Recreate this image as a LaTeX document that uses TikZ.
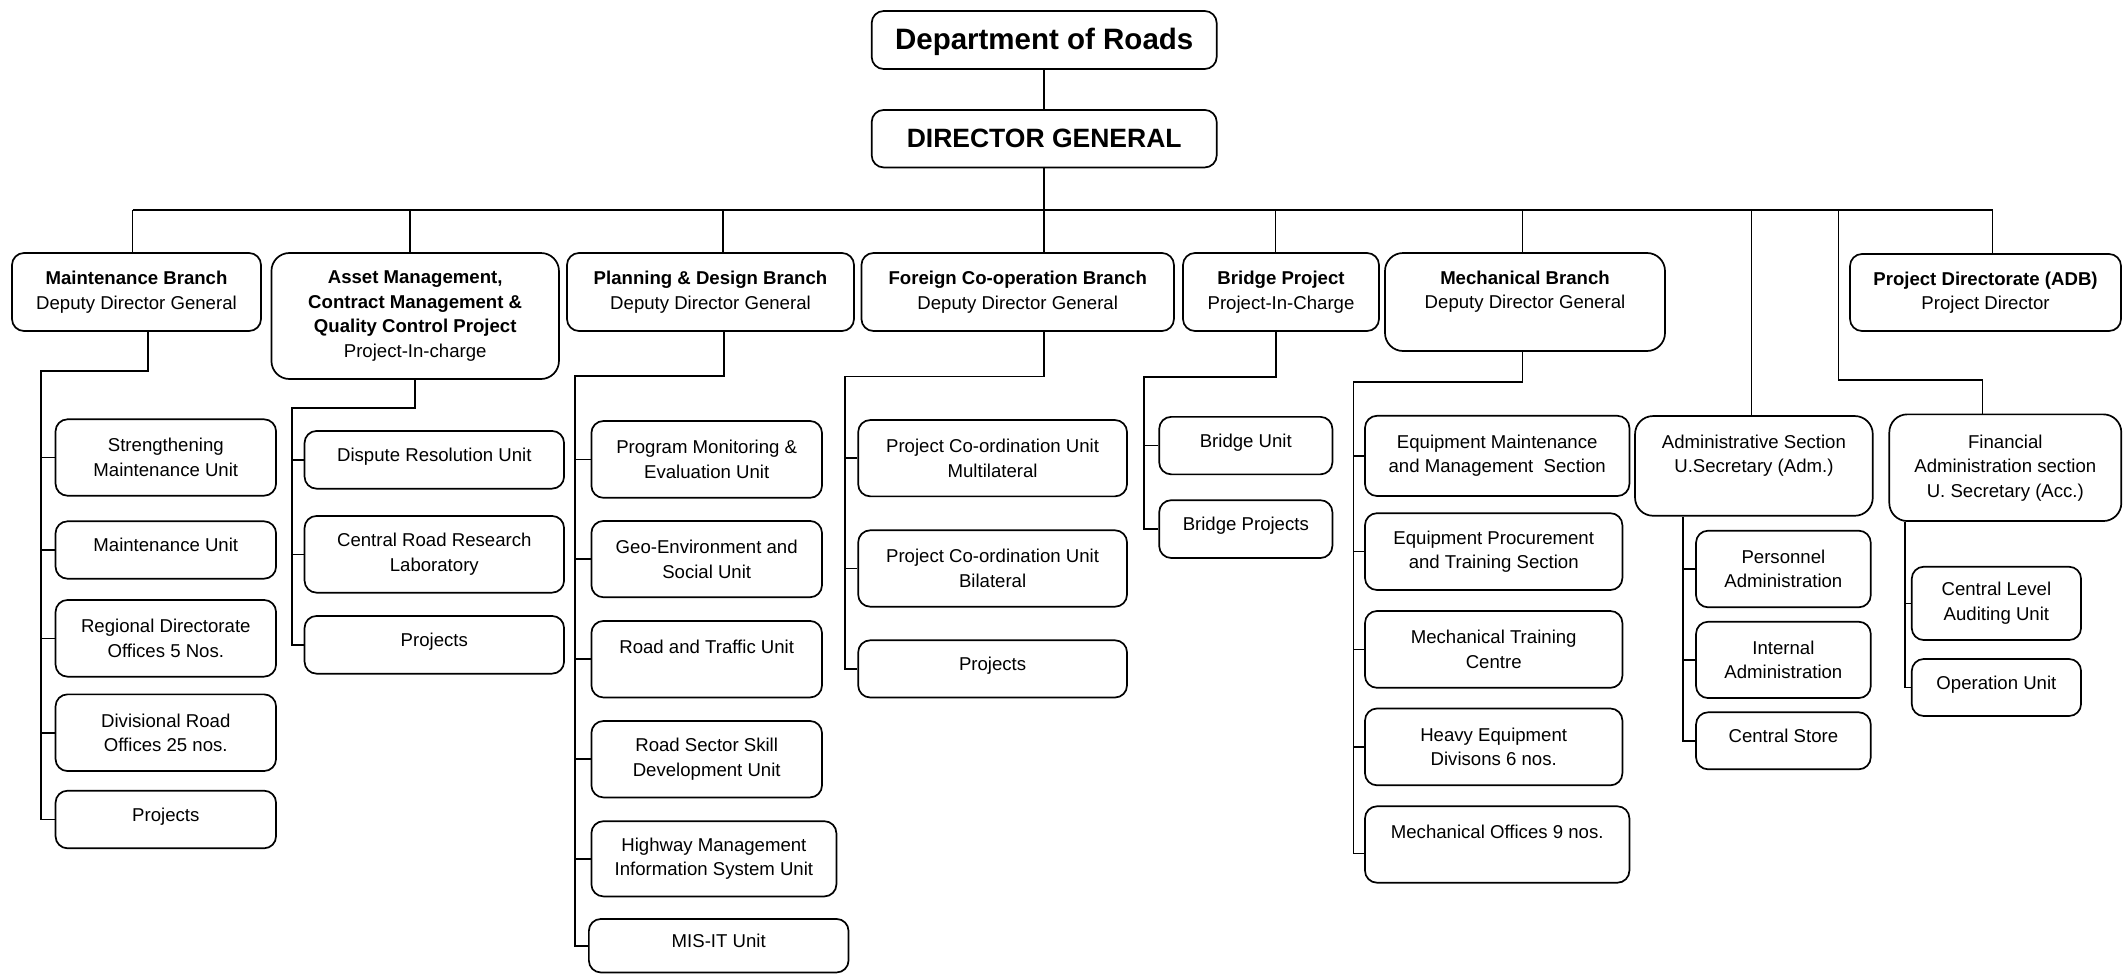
\documentclass[tikz,border=0pt]{standalone}
\usepackage{fontspec}
\setmainfont{Liberation Sans}
\usetikzlibrary{calc}
\tikzset{
  box/.style={draw, line width=1.7pt, rounded corners=12pt, align=center, inner sep=0pt,
    font=\fontsize{18.6}{24.5}\selectfont},
  bigbox/.style={box, rounded corners=18pt},
  single/.style={text height=13.3pt, text depth=10pt},
  conn/.style={line width=1.6pt},
  busline/.style={line width=2.2pt}
}
\begin{document}
\begin{tikzpicture}[x=1pt,y=-1pt]
\useasboundingbox (0,0) rectangle (2123,974);
\fill[white] (0,0) rectangle (2123,974);

% top
\node[box, minimum width=345pt, minimum height=58pt, text height=20pt, text depth=0pt, font=\bfseries\fontsize{29.5}{34}\selectfont] (dept) at (1044.2,40) {Department of Roads};
\node[box, minimum width=345pt, minimum height=57.5pt, font=\bfseries\fontsize{26.5}{30}\selectfont] (dg) at (1044.2,138.7) {DIRECTOR GENERAL};

% branches
\node[box, minimum width=249pt, minimum height=78pt] (mb) at (136.5,292) {\textbf{Maintenance Branch}\\Deputy Director General};
\node[bigbox, minimum width=287.5pt, minimum height=126pt] (am) at (415.2,316) {\textbf{Asset Management,}\\\textbf{Contract Management \&}\\\textbf{Quality Control Project}\\Project-In-charge};
\node[box, minimum width=287pt, minimum height=78pt] (pd) at (710.5,292) {\textbf{Planning \& Design Branch}\\Deputy Director General};
\node[box, minimum width=312.5pt, minimum height=78pt] (fc) at (1017.7,292) {\textbf{Foreign Co-operation Branch}\\Deputy Director General};
\node[box, minimum width=196pt, minimum height=78pt] (bp) at (1281,292) {\textbf{Bridge Project}\\Project-In-Charge};
\node[bigbox, minimum width=280pt, minimum height=98pt] (me) at (1525,302) {\textbf{Mechanical Branch}\\Deputy Director General\\~};
\node[bigbox, minimum width=237.7pt, minimum height=99.7pt] (as) at (1753.9,465.9) {Administrative Section\\U.Secretary (Adm.)\\~};
\node[box, minimum width=271pt, minimum height=77pt] (adb) at (1985.5,292.5) {\textbf{Project Directorate (ADB)}\\Project Director};
\node[bigbox, minimum width=232pt, minimum height=106.7pt] (fa) at (2005.3,467.7) {Financial\\Administration section\\U. Secretary (Acc.)};

% maintenance children
\node[box, minimum width=220.5pt, minimum height=76.4pt] (m1) at (165.8,457.5) {Strengthening\\Maintenance Unit};
\node[box, single, minimum width=220.5pt, minimum height=57.4pt] (m2) at (165.8,550) {Maintenance Unit};
\node[box, minimum width=220.5pt, minimum height=76.7pt] (m3) at (165.8,638.3) {Regional Directorate\\Offices 5 Nos.};
\node[box, minimum width=220.5pt, minimum height=76.7pt] (m4) at (165.8,732.7) {Divisional Road\\Offices 25 nos.};
\node[box, single, minimum width=220.5pt, minimum height=57.6pt] (m5) at (165.8,819.5) {Projects};

% asset children
\node[box, single, minimum width=259.5pt, minimum height=57.7pt] (a1) at (434.3,459.8) {Dispute Resolution Unit};
\node[box, minimum width=259.5pt, minimum height=76.7pt] (a2) at (434.3,554.3) {Central Road Research\\Laboratory};
\node[box, single, minimum width=259.5pt, minimum height=57.7pt] (a3) at (434.3,644.8) {Projects};

% planning children
\node[box, minimum width=230.6pt, minimum height=76.8pt] (p1) at (706.7,459.4) {Program Monitoring \&\\Evaluation Unit};
\node[box, minimum width=230.6pt, minimum height=76.3pt] (p2) at (706.7,559.1) {Geo-Environment and\\Social Unit};
\node[box, minimum width=230.6pt, minimum height=76.5pt] (p3) at (706.7,659.2) {Road and Traffic Unit\\~};
\node[box, minimum width=230.6pt, minimum height=76.4pt] (p4) at (706.7,759.2) {Road Sector Skill\\Development Unit};
\node[box, minimum width=245pt, minimum height=75.2pt] (p5) at (713.9,858.8) {Highway Management\\Information System Unit};
\node[box, single, minimum width=259.7pt, minimum height=53.5pt] (p6) at (718.7,945.7) {MIS-IT Unit};

% foreign children
\node[box, minimum width=268.8pt, minimum height=76.3pt] (f1) at (992.6,458.2) {Project Co-ordination Unit\\Multilateral};
\node[box, minimum width=268.8pt, minimum height=76.4pt] (f2) at (992.6,568.5) {Project Co-ordination Unit\\Bilateral};
\node[box, single, minimum width=268.8pt, minimum height=57.2pt] (f3) at (992.6,668.9) {Projects};

% bridge children
\node[box, single, minimum width=173.2pt, minimum height=57.5pt] (b1) at (1245.8,445.6) {Bridge Unit};
\node[box, single, minimum width=173.2pt, minimum height=57.8pt] (b2) at (1245.8,529.1) {Bridge Projects};

% mechanical children
\node[box, minimum width=264.4pt, minimum height=80.2pt] (e1) at (1497.2,455.9) {Equipment Maintenance\\and Management~ Section};
\node[box, minimum width=257.4pt, minimum height=76.8pt] (e2) at (1493.7,551.6) {Equipment Procurement\\and Training Section};
\node[box, minimum width=257.4pt, minimum height=76.8pt] (e3) at (1493.7,649.4) {Mechanical Training\\Centre};
\node[box, minimum width=257.4pt, minimum height=76.8pt] (e4) at (1493.7,746.9) {Heavy Equipment\\Divisons 6 nos.};
\node[box, minimum width=264.4pt, minimum height=76.4pt] (e5) at (1497.2,844.5) {Mechanical Offices 9 nos.\\~};

% admin children
\node[box, minimum width=174.7pt, minimum height=76.6pt] (s1) at (1783.4,569) {Personnel\\Administration};
\node[box, minimum width=174.7pt, minimum height=76.3pt] (s2) at (1783.4,659.9) {Internal\\Administration};
\node[box, single, minimum width=174.7pt, minimum height=57pt] (s3) at (1783.4,740.8) {Central Store};

% financial children
\node[box, minimum width=169.3pt, minimum height=73.3pt] (g1) at (1996.4,603.4) {Central Level\\Auditing Unit};
\node[box, single, minimum width=169.3pt, minimum height=57pt] (g2) at (1996.4,687.5) {Operation Unit};

% ---- connectors ----
\coordinate (busL) at (132.6,210);
\coordinate (busR) at (1992.5,210);
\draw[busline] (busL) -- (busR);
\draw[conn] (dept.south) -- (dg.north);
\draw[conn] (dg.south) -- (dg.south |- busL);

\coordinate (dAm) at (410,210);
\coordinate (dPd) at (723,210);
\coordinate (dFc) at (1044,210);
\coordinate (dBp) at (1275.6,210);
\coordinate (dMe) at (1522.3,210);
\coordinate (dAs) at (1751.3,210);
\coordinate (dFa) at (1838.3,210);
\coordinate (eFa) at (1982.3,380);

\draw[conn] (busL) -- (busL |- mb.north);
\draw[conn] (dAm) -- (dAm |- am.north);
\draw[conn] (dPd) -- (dPd |- pd.north);
\draw[conn] (dFc) -- (dFc |- fc.north);
\draw[conn] (dBp) -- (dBp |- bp.north);
\draw[conn] (dMe) -- (dMe |- me.north);
\draw[conn] (dAs) -- (dAs |- as.north);
\draw[conn] (busR) -- (busR |- adb.north);
\draw[conn] (dFa) |- (eFa) -- (eFa |- fa.north);

% maintenance rail
\coordinate (mbB) at (148,370.7);
\coordinate (mbRail) at (41,370.7);
\draw[conn] (mbB |- mb.south) -- (mbB) -- (mbRail) -- (mbRail |- m5.west) -- (m5.west);
\foreach \c in {m1,m2,m3,m4} \draw[conn] (\c.west) -- (mbRail |- \c.west);

% asset rail
\coordinate (amB) at (415,407.7);
\coordinate (amRail) at (292,407.7);
\draw[conn] (amB |- am.south) -- (amB) -- (amRail) -- (amRail |- a3.west) -- (a3.west);
\foreach \c in {a1,a2} \draw[conn] (\c.west) -- (amRail |- \c.west);

% planning rail
\coordinate (pdB) at (724,375.7);
\coordinate (pdRail) at (574.8,375.7);
\draw[conn] (pdB |- pd.south) -- (pdB) -- (pdRail) -- (pdRail |- p6.west) -- (p6.west);
\foreach \c in {p1,p2,p3,p4,p5} \draw[conn] (\c.west) -- (pdRail |- \c.west);

% foreign rail
\coordinate (fcB) at (1044,376.4);
\coordinate (fcRail) at (845.2,376.4);
\draw[conn] (fcB |- fc.south) -- (fcB) -- (fcRail) -- (fcRail |- f3.west) -- (f3.west);
\foreach \c in {f1,f2} \draw[conn] (\c.west) -- (fcRail |- \c.west);

% bridge rail
\coordinate (bpB) at (1275.7,377);
\coordinate (bpRail) at (1144,377);
\draw[conn] (bpB |- bp.south) -- (bpB) -- (bpRail) -- (bpRail |- b2.west) -- (b2.west);
\draw[conn] (b1.west) -- (bpRail |- b1.west);

% mechanical rail
\coordinate (meB) at (1522.5,381.7);
\coordinate (meRail) at (1353.4,381.7);
\coordinate (e5c) at ($(e5.west)+(0,9)$);
\draw[conn] (meB |- me.south) -- (meB) -- (meRail) -- (meRail |- e5c) -- (e5c);
\foreach \c in {e1,e2,e3,e4} \draw[conn] (\c.west) -- (meRail |- \c.west);

% admin rail
\coordinate (asRail) at (1682.7,520);
\draw[conn] (asRail |- as.south) -- (asRail |- s3.west) -- (s3.west);
\foreach \c in {s1,s2} \draw[conn] (\c.west) -- (asRail |- \c.west);

% financial rail
\coordinate (faRail) at (1905,525);
\draw[conn] (faRail |- fa.south) -- (faRail |- g2.west) -- (g2.west);
\draw[conn] (g1.west) -- (faRail |- g1.west);

\end{tikzpicture}
\end{document}
